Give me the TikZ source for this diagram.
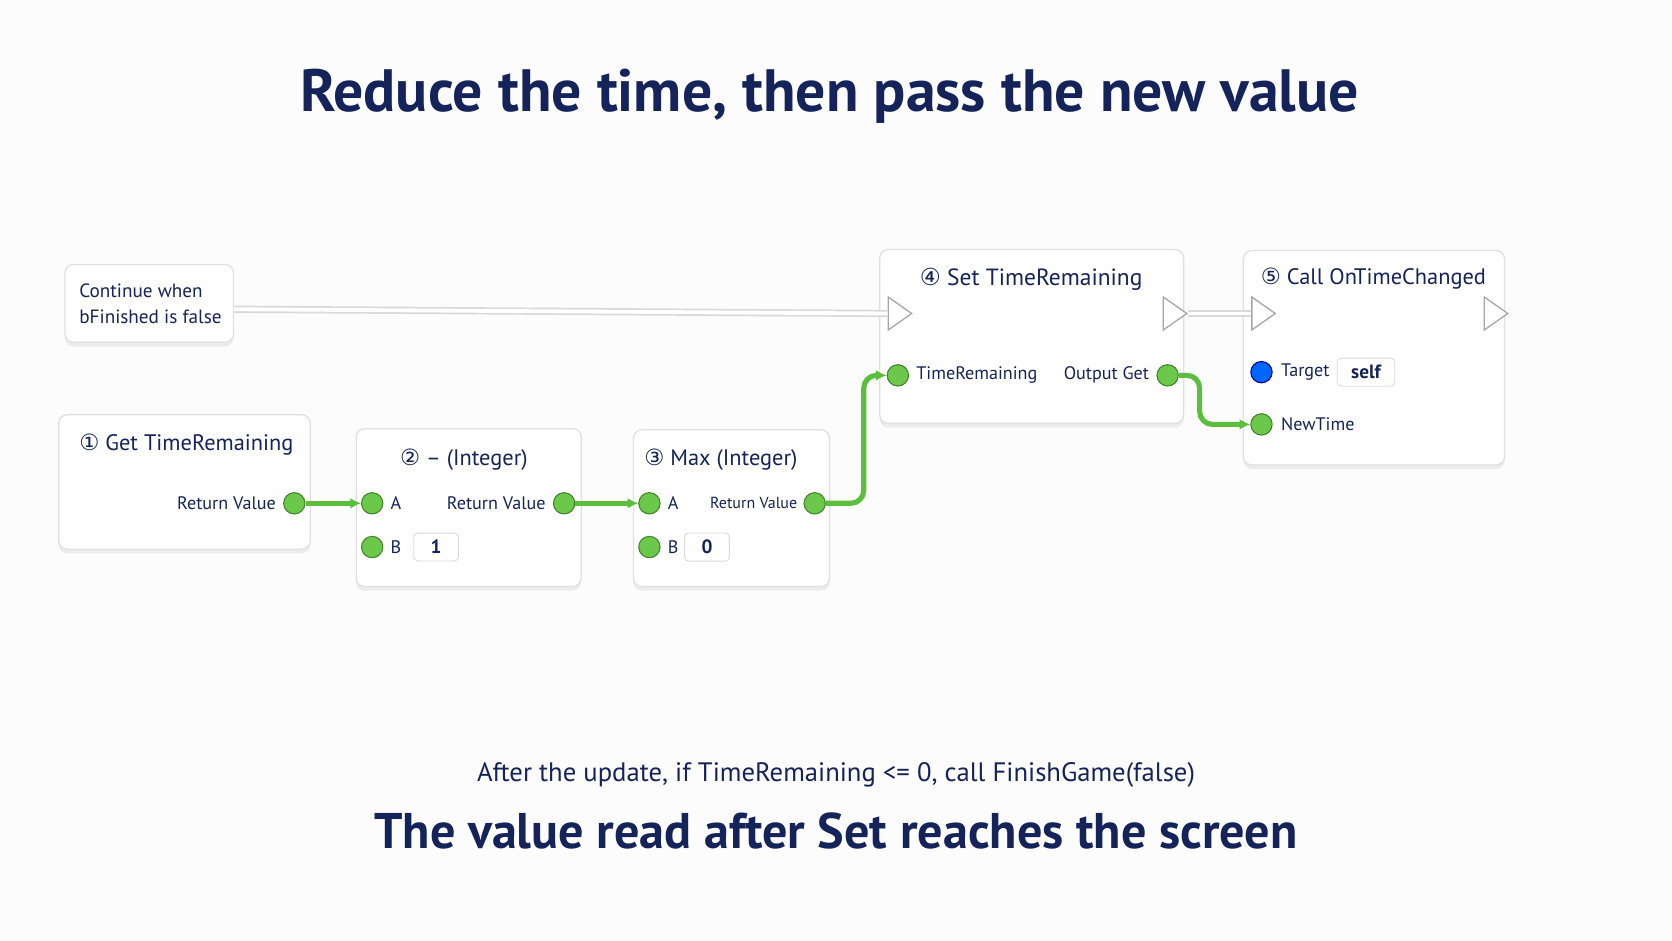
\documentclass[tikz,border=0pt]{standalone}
\usepackage{fontspec}
\setmainfont{PT Sans}
\newfontfamily\symfont{DejaVu Sans}
\newcommand{\circnum}[1]{{\symfont #1}}
\usetikzlibrary{arrows.meta,shapes.geometric,shadows}
\definecolor{navy}{HTML}{14245A}
\definecolor{pingreen}{HTML}{6CC84A}
\definecolor{wiregreen}{HTML}{5BBE3C}
\tikzset{
  card/.style={draw=black!12,fill=white,rounded corners=4pt,line width=0.6pt,
    drop shadow={opacity=0.12,shadow xshift=0pt,shadow yshift=-2pt}},
  txt/.style={text=navy,font=\fontsize{8.5}{10}\selectfont,inner sep=0pt},
  head/.style={text=navy,font=\fontsize{10.5}{12}\selectfont,inner sep=0pt},
  pin/.style={circle,draw=wiregreen!70!black,fill=pingreen,minimum size=10pt,inner sep=0pt,line width=0.5pt},
  bluepin/.style={circle,draw=blue!60!black,fill=blue!60!cyan,minimum size=10pt,inner sep=0pt,line width=0.5pt},
  exec/.style={isosceles triangle,isosceles triangle apex angle=70,draw=black!35,fill=white,
    minimum height=11pt,inner sep=0pt,line width=0.6pt},
  valbox/.style={draw=black!15,rounded corners=2pt,fill=white,text=navy,
    font=\bfseries\fontsize{9}{10}\selectfont,minimum width=21pt,minimum height=13pt},
  wire/.style={wiregreen,line width=2.4pt,rounded corners=6pt,-{Latex[length=5pt,width=5pt]}},
  flow/.style={draw=black!15,double=white,double distance=1.8pt,line width=0.8pt},
}
\begin{document}
\begin{tikzpicture}[x=0.5pt,y=-0.5pt]
  \useasboundingbox (0,0) rectangle (1568,882);
  \fill[black!1] (0,0) rectangle (1568,882);
  % titles
  \node[text=navy,font=\bfseries\fontsize{28}{32}\selectfont] (title) at (778,90) {Reduce the time, then pass the new value};
  \node[text=navy,font=\fontsize{12.5}{14}\selectfont] (note) at (784,727) {After the update, if TimeRemaining <= 0, call FinishGame(false)};
  \node[text=navy,font=\bfseries\fontsize{23.5}{26}\selectfont] (bottom) at (784,779) {The value read after Set reaches the screen};
  % cards
  \draw[card] (61,248) rectangle (219,321);
  \node[txt,align=left,anchor=west,font=\fontsize{9}{12.5}\selectfont] (cond) at (74,285) {Continue when\\bFinished is false};
  \draw[card] (55,389) rectangle (291,515);
  \node[head,anchor=west] (get) at (74,417) {\circnum{①} Get TimeRemaining};
  \draw[card] (334,402) rectangle (545,550);
  \node[head] (sub) at (435,431) {\circnum{②} – (Integer)};
  \draw[card] (594,403) rectangle (778,550);
  \node[head] (max) at (676,431) {\circnum{③} Max (Integer)};
  \draw[card] (825,234) rectangle (1110,397);
  \node[head,font=\fontsize{11}{12}\selectfont] (set) at (967,262) {\circnum{④} Set TimeRemaining};
  \draw[card] (1166,235) rectangle (1411,436);
  \node[head] (call) at (1288,261) {\circnum{⑤} Call OnTimeChanged};
  % exec pins
  \node[exec] (setin) at (841,294) {};
  \node[exec] (setout) at (1099,294) {};
  \node[exec] (callin) at (1182,294) {};
  \node[exec] (callout) at (1400,294) {};
  \coordinate (condout) at (219,290);
  % data pins
  \node[pin] (getrv) at (276,472) {};
  \node[txt,anchor=east] at (259,472) {Return Value};
  \node[pin] (suba) at (349,472) {};
  \node[txt,anchor=west] at (366,472) {A};
  \node[pin] (subb) at (349,513) {};
  \node[txt,anchor=west] at (366,513) {B};
  \node[valbox] (subval) at (409,513) {1};
  \node[pin] (subrv) at (529,472) {};
  \node[txt,anchor=east] at (512,472) {Return Value};
  \node[pin] (maxa) at (609,472) {};
  \node[txt,anchor=west] at (626,472) {A};
  \node[pin] (maxb) at (609,513) {};
  \node[txt,anchor=west] at (626,513) {B};
  \node[valbox] (maxval) at (663,513) {0};
  \node[pin] (maxrv) at (764,472) {};
  \node[txt,anchor=east,font=\fontsize{7.5}{9}\selectfont] at (748,472) {Return Value};
  \node[pin] (settr) at (842,352) {};
  \node[txt,anchor=west] at (859,352) {TimeRemaining};
  \node[pin] (setget) at (1095,352) {};
  \node[txt,anchor=east] at (1078,352) {Output Get};
  \node[bluepin] (target) at (1183,349) {};
  \node[txt,anchor=west] at (1201,349) {Target};
  \node[valbox,minimum width=27pt] (self) at (1281,349) {self};
  \node[pin] (newtime) at (1183,398) {};
  \node[txt,anchor=west] at (1201,398) {NewTime};
  % exec flow
  \draw[flow] (condout) -- (setin.west);
  \draw[flow] (setout.apex) -- (callin.west);
  % data wires
  \draw[wire] (getrv) -- (suba);
  \draw[wire] (subrv) -- (maxa);
  \draw[wire] (maxrv) -- (810,472) -- (810,352) -- (settr);
  \draw[wire] (setget) -- (1125,352) -- (1125,398) -- (newtime);
\end{tikzpicture}
\end{document}
